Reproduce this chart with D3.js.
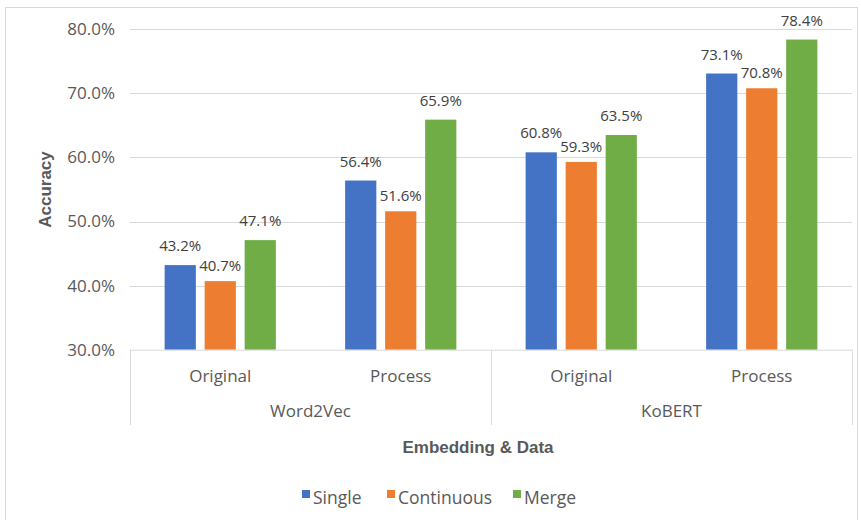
<!DOCTYPE html>
<html><head><meta charset="utf-8">
<script src="https://cdn.jsdelivr.net/npm/d3@7"></script>
<style>body{margin:0;background:#fff}svg{display:block}</style>
</head><body><svg id="c" width="861" height="520"></svg>
<script>
const groups = ["Word2Vec", "KoBERT"];
const subcats = ["Original", "Process"];
const categories = ["Word2Vec|Original", "Word2Vec|Process", "KoBERT|Original", "KoBERT|Process"];
const seriesNames = ["Single", "Continuous", "Merge"];
const single = [43.2, 56.4, 60.8, 73.1];
const continuous = [40.7, 51.6, 59.3, 70.8];
const merge = [47.1, 65.9, 63.5, 78.4];
const yTicks = [30, 40, 50, 60, 70, 80];
const colors = ["#4472C4", "#ED7D31", "#70AD47"];

const seriesValues = [single, continuous, merge];
const font = "'Open Sans', 'Noto Sans', sans-serif";
const textCol = "#595959";
const svg = d3.select("#c");

// outer frame
svg.append("rect").attr("x", 5.5).attr("y", 7.5).attr("width", 852).attr("height", 530)
  .attr("fill", "none").attr("stroke", "#d9d9d9");

const L = 130, R = 852, T = 29.3, B = 349.7;
const y = d3.scaleLinear().domain([30, 80]).range([B, T]);
const x0 = d3.scaleBand().domain(categories).range([L, R]).paddingInner(0.335).paddingOuter(0.1675);
const x1 = d3.scaleBand().domain(seriesNames).range([0, x0.bandwidth()]).paddingInner(0.22).paddingOuter(0.11);

// gridlines
svg.append("g").selectAll("line").data(yTicks.slice(1)).join("line")
  .attr("x1", L).attr("x2", R).attr("y1", d => Math.round(y(d)) + 0.5).attr("y2", d => Math.round(y(d)) + 0.5)
  .attr("stroke", "#d9d9d9").attr("stroke-width", 1);

// y axis labels
const yAxis = d3.axisLeft(y).tickValues(yTicks).tickSize(0).tickPadding(15)
  .tickFormat(d => d.toFixed(1) + "%");
const gy = svg.append("g").attr("transform", `translate(${L},0)`).call(yAxis);
gy.select(".domain").remove();
gy.selectAll("text").attr("font-family", font).attr("font-size", 17).attr("fill", textCol);

// bars
const sg = svg.append("g");
seriesNames.forEach((s, si) => {
  const g = sg.append("g");
  g.selectAll("rect").data(seriesValues[si]).join("rect")
    .attr("x", (d, i) => x0(categories[i]) + x1(s))
    .attr("y", d => y(d))
    .attr("width", x1.bandwidth())
    .attr("height", d => y(30) - y(d))
    .attr("fill", colors[si]);
  g.selectAll("text").data(seriesValues[si]).join("text")
    .attr("x", (d, i) => x0(categories[i]) + x1(s) + x1.bandwidth() / 2)
    .attr("y", d => y(d) - (si === 1 ? 10 : 14))
    .attr("text-anchor", "middle")
    .attr("font-family", font).attr("font-size", 15).attr("fill", "#404040")
    .text(d => d.toFixed(1) + "%");
});

// x axis line and group separators
const axisCol = "#d9d9d9";
svg.append("line").attr("x1", L).attr("x2", R).attr("y1", B + 0.5).attr("y2", B + 0.5).attr("stroke", axisCol);
const sepX = [L, x0(categories[2]) - x0.step() * x0.paddingInner() / 2, R];
svg.append("g").selectAll("line").data(sepX).join("line")
  .attr("x1", d => Math.round(d) + 0.5).attr("x2", d => Math.round(d) + 0.5)
  .attr("y1", B).attr("y2", 425).attr("stroke", axisCol);

// category labels
svg.append("g").selectAll("text").data(categories).join("text")
  .attr("x", d => x0(d) + x0.bandwidth() / 2).attr("y", 382)
  .attr("text-anchor", "middle").attr("font-family", font).attr("font-size", 17).attr("fill", textCol)
  .text(d => d.split("|")[1]);
svg.append("g").selectAll("text").data(groups).join("text")
  .attr("x", (d, i) => (sepX[i] + sepX[i + 1]) / 2).attr("y", 417)
  .attr("text-anchor", "middle").attr("font-family", font).attr("font-size", 17).attr("fill", textCol)
  .text(d => d);

// axis titles
svg.append("text").attr("x", 478).attr("y", 453).attr("text-anchor", "middle")
  .attr("font-family", "'Liberation Sans', Arial, sans-serif").attr("font-weight", "bold").attr("font-size", 17)
  .attr("fill", textCol).text("Embedding & Data");
svg.append("text").attr("transform", `translate(51,${(T + B) / 2}) rotate(-90)`).attr("text-anchor", "middle")
  .attr("font-family", "'Liberation Sans', Arial, sans-serif").attr("font-weight", "bold").attr("font-size", 17)
  .attr("fill", textCol).text("Accuracy");

// legend
const legX = [302, 387, 513];
const lg = svg.append("g");
seriesNames.forEach((s, i) => {
  lg.append("rect").attr("x", legX[i]).attr("y", 490).attr("width", 8).attr("height", 8).attr("fill", colors[i]);
  lg.append("text").attr("x", legX[i] + 11).attr("y", 504).attr("font-family", font).attr("font-size", 17.5)
    .attr("fill", textCol).text(s);
});
</script></body></html>
